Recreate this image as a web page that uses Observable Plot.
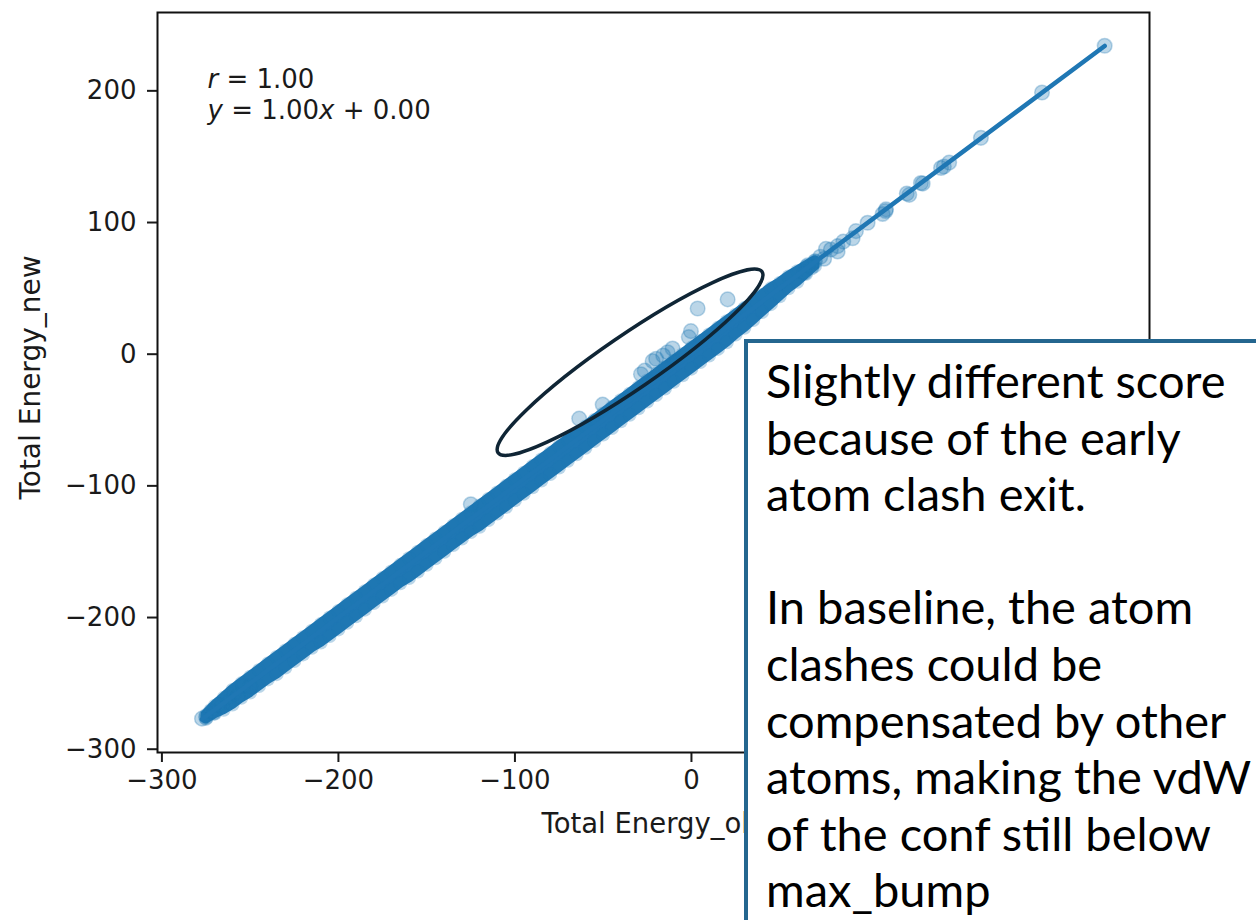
<!DOCTYPE html>
<html>
<head>
<meta charset="utf-8">
<script src="https://cdn.jsdelivr.net/npm/d3@7"></script>
<script src="https://cdn.jsdelivr.net/npm/@observablehq/plot@0.6"></script>
<style>
  html, body { margin: 0; padding: 0; background: #fff; }
  #wrap { position: relative; width: 1256px; height: 920px; overflow: hidden; background: #fff; }
  #chart { position: absolute; left: 0; top: 0; }
  #note { position: absolute; left: 744px; top: 339px; width: 700px; height: 800px; box-sizing: border-box;
          border: 4px solid #24668f; background: #fff; }
  #noteText { position: absolute; left: 766px; top: 352px; font-family: Lato, "Noto Sans", sans-serif;
              font-size: 47px; line-height: 56.6px; color: #000; white-space: pre; }
</style>
</head>
<body>
<div id="wrap">
  <div id="chart"></div>
  <div id="note"></div>
  <div id="noteText"></div>
</div>
<script>
// ---------- data ----------
const xTicks = [-300, -200, -100, 0];          // 100 and 200 are hidden behind the note box
const yTicks = [-300, -200, -100, 0, 100, 200];
const xLabel = "Total Energy_old";
const yLabel = "Total Energy_new";
const statLines = ["r = 1.00", "y = 1.00x + 0.00"];
const fit = {slope: 1.00, intercept: 0.00};

// envelope of the dense core of points (Total Energy_old -> lowest / highest Total Energy_new)
const coreX = [-275,-270,-265,-260,-255,-250,-245,-240,-235,-230,
               -225,-220,-215,-210,-205,-200,-195,-190,-185,-180,
               -175,-170,-165,-160,-155,-150,-145,-140,-135,-130,
               -125,-120,-115,-110,-105,-100,-95,-90,-85,-80,
               -75,-70,-65,-60,-55,-50,-45,-40,-35,-30,
               -25,-20,-15,-10,-5,0,5,10,15,20,
               25,30,35,40,45,50,55,60,65,70];
const coreLow = [-277,-273,-270,-266,-261,-257,-252,-247,-243,-238,
                 -233,-228,-223,-219,-214,-209,-204,-199,-194,-189,
                 -184,-179,-174,-170,-165,-160,-155,-150,-145,-140,
                 -135,-131,-126,-121,-116,-111,-106,-101,-96,-91,
                 -86,-81,-76,-71,-66,-61,-56,-51,-46,-41,
                 -36,-31,-26,-21,-16,-11,-6,-1,4,9,
                 15,20,26,32,38,44,50,55,61,67];
const coreHigh = [-274,-267,-261,-255,-250,-245,-240,-235,-230,-225,
                  -220,-215,-210,-205,-200,-195,-190,-185,-180,-175,
                  -170,-165,-160,-155,-150,-145,-140,-135,-130,-125,
                  -120,-115,-110,-105,-100,-95,-90,-85,-80,-75,
                  -70,-65,-60,-55,-50,-45,-40,-35,-30,-25,
                  -20,-15,-10,-5,0,5,10,15,20,25,
                  30,35,40,45,50,54,59,63,67,71];

// individually visible points (tails and outliers)
const pointsX = [234.1,198.6,164,146,143,141.4,131,130,123.4,122,110.2,108.3,110,99.8,93.2,91.3,86,82.8,82.8,79,76.2,75.2,73,70,68,66,64,
                 20.5,3.5,-0.3,-1.5,-10.7,-13.5,-16,-22,-20,-28.6,-26.5,-50.3,-63.6,-125,
                 -277.3,-275,-272,-270.5,-268,-266,-263,-262,-259,-257,-254,-250];
const pointsY = [234.2,198.7,164.3,145.5,142.5,141.4,129.5,130,121,122,110,106.5,108.7,99.8,93.5,88,85.5,82.1,78,79.5,80,72.5,74,70.5,66,67.5,62,
                 41.6,34.7,17.5,13,4.3,1.5,-1,-5.3,-3.5,-15.2,-12.5,-38.3,-48.9,-114,
                 -276.8,-275.5,-271,-272,-266.5,-267,-261,-264,-257.5,-259.5,-252,-252.5];

// ---------- styles ----------
const blue = "#1f77b4";
const highlight = {cx: -34.5, cy: -6.5, rx: 160, ry: 27, angle: -34.4}; // centre in data units, radii in px

const fitX = d3.extent(pointsX);
const fitY = fitX.map(v => fit.slope * v + fit.intercept);

const ellipseMark = (index, scales) => {
  const cx = scales.x(highlight.cx), cy = scales.y(highlight.cy);
  return d3.create("svg:ellipse")
    .attr("cx", cx).attr("cy", cy)
    .attr("rx", highlight.rx).attr("ry", highlight.ry)
    .attr("transform", `rotate(${highlight.angle} ${cx} ${cy})`)
    .attr("fill", "none").attr("stroke", "#0f2535").attr("stroke-width", 3.5)
    .node();
};

const dotStyle = {r: 7.3, fill: blue, fillOpacity: 0.3, stroke: blue, strokeOpacity: 0.3, strokeWidth: 1.5};
const edgeStyle = {r: 7, fill: blue, fillOpacity: 0.3};

const chart = Plot.plot({
  width: 1256,
  height: 920,
  marginLeft: 157,
  marginRight: 107,
  marginTop: 12,
  marginBottom: 168,
  x: {domain: [-302.5, 259.5]},
  y: {domain: [-302.5, 259.5]},
  style: {fontFamily: "DejaVu Sans", fontSize: "26px", color: "#1a1a1a", background: "transparent", overflow: "visible"},
  marks: [
    Plot.areaY(coreX, {x: coreX, y1: coreLow, y2: coreHigh, fill: blue, stroke: blue, strokeWidth: 10, strokeLinejoin: "round"}),
    Plot.dot(coreX, {x: coreX, y: coreLow, ...edgeStyle}),
    Plot.dot(coreX, {x: coreX, y: coreHigh, ...edgeStyle}),
    Plot.dot(pointsX, {x: pointsX, y: pointsY, ...dotStyle}),
    Plot.line(fitX, {x: fitX, y: fitY, stroke: blue, strokeWidth: 4.5}),
    ellipseMark,
    Plot.text([statLines[0]], {frameAnchor: "top-left", text: d => d, dx: 50, dy: 75, lineAnchor: "bottom", textAnchor: "start", fontSize: 26, fill: "#1a1a1a"}),
    Plot.text([statLines[1]], {frameAnchor: "top-left", text: d => d, dx: 50, dy: 106, lineAnchor: "bottom", textAnchor: "start", fontSize: 26, fill: "#1a1a1a"}),
    Plot.axisX({ticks: xTicks, tickSize: 10, tickPadding: 8, strokeWidth: 2, fontSize: 26, label: null}),
    Plot.axisY({ticks: yTicks, tickSize: 10, tickPadding: 11, strokeWidth: 2, fontSize: 26, label: null}),
    Plot.text([xLabel], {frameAnchor: "bottom", text: d => d, textAnchor: "start", lineAnchor: "bottom",
                         dx: -112, dy: 80, fontSize: 27.5, fill: "#1a1a1a"}),
    Plot.text([yLabel], {frameAnchor: "left", text: d => d, rotate: -90, textAnchor: "middle", lineAnchor: "top",
                         dx: -137, dy: -5, fontSize: 28, fill: "#1a1a1a"}),
    Plot.frame({stroke: "#111", strokeWidth: 2})
  ]
});
document.getElementById("chart").appendChild(chart);

// italic math letters in the statistics annotation
d3.select(chart).selectAll("text").each(function () {
  const t = this.textContent;
  if (statLines.includes(t)) {
    const sel = d3.select(this);
    sel.text(null).attr("xml:space", "preserve");
    let buf = "";
    const flush = () => { if (buf) { sel.append("tspan").text(buf); buf = ""; } };
    for (const ch of t) {
      if (/[a-z]/.test(ch)) { flush(); sel.append("tspan").attr("font-style", "italic").text(ch); }
      else buf += ch;
    }
    flush();
  }
});

// annotation box text
const noteLines = [
  "Slightly different score",
  "because of the early",
  "atom clash exit.",
  "",
  "In baseline, the atom",
  "clashes could be",
  "compensated by other",
  "atoms, making the vdW",
  "of the conf still below",
  "max_bump"
];
const nt = document.getElementById("noteText");
noteLines.forEach(l => {
  const d = document.createElement("div");
  d.textContent = l === "" ? " " : l;
  nt.appendChild(d);
});
</script>
</body>
</html>
